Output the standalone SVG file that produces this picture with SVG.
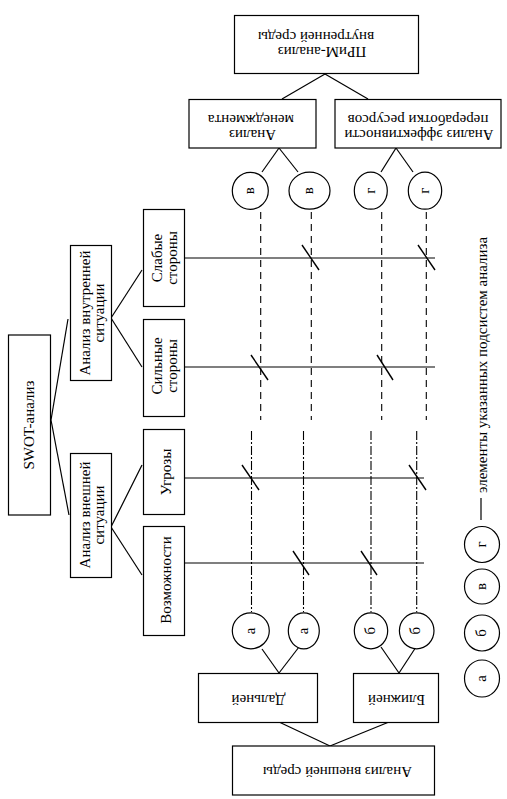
<svg xmlns="http://www.w3.org/2000/svg" width="507" height="799" viewBox="0 0 507 799">
<style>
  .box { fill: #fff; stroke: #000; stroke-width: 1.2; }
  .ln { stroke: #000; stroke-width: 1.2; fill: none; }
  .dash { stroke: #000; stroke-width: 1.1; fill: none; stroke-dasharray: 7 5; }
  .dashdot { stroke: #000; stroke-width: 1.1; fill: none; stroke-dasharray: 9 2 2 2; }
  .tick { stroke: #000; stroke-width: 1.4; fill: none; }
  .el { fill: #fff; stroke: #000; stroke-width: 1.2; }
  text { font-family: "Liberation Serif", "Times New Roman", serif; font-size: 15px; fill: #000; }
  .c { text-anchor: middle; }
</style>

<g id="connectors">
  <!-- SWOT branches -->
  <line class="ln" x1="51" y1="420" x2="68" y2="319"/>
  <line class="ln" x1="51" y1="420" x2="69" y2="515"/>
  <!-- internal situation branches -->
  <line class="ln" x1="111" y1="318" x2="142" y2="270"/>
  <line class="ln" x1="111" y1="318" x2="142" y2="367"/>
  <!-- external situation branches -->
  <line class="ln" x1="111" y1="527" x2="142" y2="465"/>
  <line class="ln" x1="111" y1="527" x2="142" y2="575"/>
  <!-- PRiM branches -->
  <line class="ln" x1="325" y1="74" x2="282" y2="99"/>
  <line class="ln" x1="325" y1="74" x2="368" y2="99"/>
  <!-- management -> в -->
  <line class="ln" x1="279" y1="148" x2="262" y2="172"/>
  <line class="ln" x1="279" y1="148" x2="298" y2="172"/>
  <!-- efficiency -> г -->
  <line class="ln" x1="396" y1="148" x2="381" y2="172"/>
  <line class="ln" x1="396" y1="148" x2="413" y2="172"/>
  <!-- external environment branches -->
  <line class="ln" x1="330" y1="746" x2="279" y2="722"/>
  <line class="ln" x1="330" y1="746" x2="389" y2="722"/>
  <!-- far -> а -->
  <line class="ln" x1="279" y1="673" x2="262" y2="649"/>
  <line class="ln" x1="279" y1="673" x2="299" y2="647"/>
  <!-- near -> б -->
  <line class="ln" x1="399" y1="673" x2="381" y2="647"/>
  <line class="ln" x1="399" y1="673" x2="416" y2="647"/>

  <!-- horizontal lines -->
  <line class="ln" x1="184" y1="258" x2="435" y2="258"/>
  <line class="ln" x1="184" y1="367" x2="435" y2="367"/>
  <line class="ln" x1="184" y1="478" x2="424" y2="478"/>
  <line class="ln" x1="184" y1="563" x2="424" y2="563"/>

  <!-- upper dashed verticals -->
  <line class="dash" x1="260.7" y1="212" x2="260.7" y2="420"/>
  <line class="dash" x1="311.3" y1="212" x2="311.3" y2="420"/>
  <line class="dash" x1="381.7" y1="212" x2="381.7" y2="420"/>
  <line class="dash" x1="426.3" y1="212" x2="426.3" y2="420"/>

  <!-- lower dash-dot verticals -->
  <line class="dashdot" x1="251.5" y1="431" x2="251.5" y2="612"/>
  <line class="dashdot" x1="303.5" y1="431" x2="303.5" y2="612"/>
  <line class="dashdot" x1="371" y1="431" x2="371" y2="612"/>
  <line class="dashdot" x1="416.7" y1="431" x2="416.7" y2="612"/>

  <!-- ticks -->
  <line class="tick" x1="302" y1="245" x2="319" y2="270"/>
  <line class="tick" x1="418" y1="245" x2="435" y2="270"/>
  <line class="tick" x1="251" y1="355" x2="268" y2="380"/>
  <line class="tick" x1="377" y1="355" x2="393" y2="380"/>
  <line class="tick" x1="242" y1="465" x2="259" y2="490"/>
  <line class="tick" x1="409" y1="465" x2="426" y2="490"/>
  <line class="tick" x1="293" y1="551" x2="309" y2="575"/>
  <line class="tick" x1="361" y1="551" x2="377" y2="575"/>

  <!-- legend dash -->
  <line class="ln" x1="481" y1="498" x2="481" y2="520"/>
</g>

<g id="swot">
  <rect class="box" x="8.5" y="335" width="42" height="180"/>
  <text class="c" transform="translate(34,425) rotate(-90)">SWOT-анализ</text>
</g>

<g id="internal">
  <rect class="box" x="70.5" y="245.5" width="41" height="135"/>
  <text class="c" transform="translate(90,313) rotate(-90)">Анализ внутренней</text>
  <text class="c" transform="translate(104,313) rotate(-90)">ситуации</text>
</g>

<g id="external">
  <rect class="box" x="70.5" y="453.5" width="41" height="124"/>
  <text class="c" transform="translate(90,515) rotate(-90)">Анализ внешней</text>
  <text class="c" transform="translate(104,515) rotate(-90)">ситуации</text>
</g>

<g id="weak">
  <rect class="box" x="143.5" y="209.5" width="41" height="97"/>
  <text class="c" transform="translate(162,258) rotate(-90)">Слабые</text>
  <text class="c" transform="translate(177,258) rotate(-90)">стороны</text>
</g>

<g id="strong">
  <rect class="box" x="143.5" y="319.5" width="41" height="97"/>
  <text class="c" transform="translate(162,366) rotate(-90)">Сильные</text>
  <text class="c" transform="translate(177,366) rotate(-90)">стороны</text>
</g>

<g id="threats">
  <rect class="box" x="143.5" y="429.5" width="41" height="85"/>
  <text class="c" transform="translate(171,472) rotate(-90)">Угрозы</text>
</g>

<g id="opportunities">
  <rect class="box" x="143.5" y="526.5" width="41" height="109"/>
  <text class="c" transform="translate(171,580) rotate(-90)">Возможности</text>
</g>

<g id="prim">
  <rect class="box" x="234.5" y="15.5" width="184" height="58"/>
  <text class="c" transform="translate(322,47) rotate(180)">ПРиМ-анализ</text>
  <text class="c" transform="translate(316,32) rotate(180)">внутренней среды</text>
</g>

<g id="management">
  <rect class="box" x="189" y="99.5" width="127" height="48.5"/>
  <text class="c" transform="translate(252.5,130) rotate(180)">Анализ</text>
  <text class="c" transform="translate(251,114.5) rotate(180)">менеджмента</text>
</g>

<g id="efficiency">
  <rect class="box" x="335" y="99.5" width="166" height="48.5"/>
  <text class="c" transform="translate(419,130) rotate(180)">Анализ эффективности</text>
  <text class="c" transform="translate(418,114.5) rotate(180)">переработки ресурсов</text>
</g>

<g id="far">
  <rect class="box" x="198.5" y="673.5" width="119" height="49"/>
  <text class="c" transform="translate(258.5,695) rotate(180)">Дальней</text>
</g>

<g id="near">
  <rect class="box" x="353.5" y="673.5" width="85" height="49"/>
  <text class="c" transform="translate(396.5,695) rotate(180)">Ближней</text>
</g>

<g id="ext-env">
  <rect class="box" x="232.5" y="746" width="202" height="49"/>
  <text class="c" transform="translate(337.5,767) rotate(180)">Анализ внешней среды</text>
</g>

<g id="elements-v-g">
  <ellipse class="el" cx="250.3" cy="190.8" rx="18" ry="18.5"/>
  <text class="c" transform="translate(254,190.8) rotate(-90)">в</text>
  <ellipse class="el" cx="309.5" cy="190.7" rx="20.5" ry="18.5"/>
  <text class="c" transform="translate(313.2,190.7) rotate(-90)">в</text>
  <ellipse class="el" cx="370.8" cy="190.7" rx="16.5" ry="18.5"/>
  <text class="c" transform="translate(374.5,190.7) rotate(-90)">г</text>
  <ellipse class="el" cx="425" cy="190.7" rx="16.7" ry="18.5"/>
  <text class="c" transform="translate(428.7,190.7) rotate(-90)">г</text>
</g>

<g id="elements-a-b">
  <ellipse class="el" cx="250.8" cy="630.8" rx="18.5" ry="18"/>
  <text class="c" transform="translate(254.5,630.8) rotate(-90)">а</text>
  <ellipse class="el" cx="303.8" cy="630.8" rx="15.5" ry="18"/>
  <text class="c" transform="translate(307.5,630.8) rotate(-90)">а</text>
  <ellipse class="el" cx="371" cy="630.8" rx="16.7" ry="18"/>
  <text class="c" transform="translate(374.7,630.8) rotate(-90)">б</text>
  <ellipse class="el" cx="416.7" cy="630.8" rx="17.3" ry="18"/>
  <text class="c" transform="translate(420.4,630.8) rotate(-90)">б</text>
</g>

<g id="legend">
  <ellipse class="el" cx="482" cy="544.5" rx="17.5" ry="18"/>
  <text class="c" transform="translate(485.7,544.5) rotate(-90)">г</text>
  <ellipse class="el" cx="482" cy="586.5" rx="17.5" ry="17.5"/>
  <text class="c" transform="translate(485.7,586.5) rotate(-90)">в</text>
  <ellipse class="el" cx="482" cy="633" rx="17.5" ry="18"/>
  <text class="c" transform="translate(485.7,633) rotate(-90)">б</text>
  <ellipse class="el" cx="482" cy="678.5" rx="17.5" ry="18.5"/>
  <text class="c" transform="translate(485.7,678.5) rotate(-90)">а</text>
  <text transform="translate(487,493) rotate(-90)">элементы указанных подсистем анализа</text>
</g>
</svg>
